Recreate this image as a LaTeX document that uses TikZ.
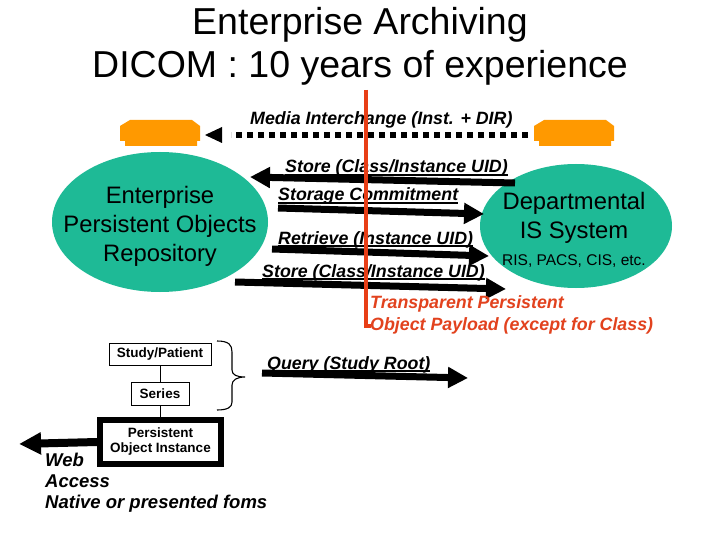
\documentclass[tikz,border=0pt]{standalone}
\usepackage{fontspec}
\setmainfont{Liberation Sans}
\usetikzlibrary{arrows.meta,shapes.geometric}
\definecolor{tealfill}{RGB}{30,186,150}
\definecolor{orng}{RGB}{255,153,0}
\definecolor{redl}{RGB}{232,62,22}
\definecolor{redt}{RGB}{226,66,30}
\newcommand\myul[1]{\setbox0=\hbox{#1}\rlap{\rule[-2.6pt]{\wd0}{1.3pt}}\box0}
\begin{document}
\begin{tikzpicture}[x=1pt,y=-1pt,
  ttl/.style={font=\fontsize{37.5}{42}\selectfont, inner sep=0, anchor=base},
  lbl/.style={font=\fontsize{17.8}{21}\selectfont\bfseries\itshape, inner sep=0, anchor=base west},
  webl/.style={font=\fontsize{18.5}{21}\selectfont\bfseries\itshape, inner sep=0, anchor=base west},
  elltxt/.style={font=\fontsize{23.8}{28}\selectfont, inner sep=0, anchor=base},
  smalltxt/.style={font=\fontsize{15.5}{18}\selectfont, inner sep=0, anchor=base},
  blob/.style={ellipse, fill=tealfill, inner sep=0},
  boxn/.style={draw, line width=1pt, font=\fontsize{13.5}{16}\selectfont\bfseries, inner sep=0, align=center},
  fat/.style={line width=7pt, -{Triangle[length=20pt,width=20pt]}},
  dots/.style={line width=6pt, dash pattern=on 6pt off 5pt},
  redline/.style={redl, line width=4.5pt}
]
\useasboundingbox[fill=white] (0,0) rectangle (720,540);

% title
\node[ttl] (t1) at (360,35) {Enterprise Archiving};
\node[ttl] (t2) at (360,78) {DICOM : 10 years of experience};

% ellipses
\node[blob, minimum width=216pt, minimum height=140pt] (repo) at (160,222) {};
\node[blob, minimum width=192pt, minimum height=124pt] (dept) at (576,226) {};
\node[elltxt] (e1) at (160,204) {Enterprise};
\node[elltxt] (e2) at (160,232.5) {Persistent Objects};
\node[elltxt] (e3) at (160,261) {Repository};
\node[elltxt] (d1) at (574,210) {Departmental};
\node[elltxt] (d2) at (574,239) {IS System};
\node[smalltxt] (d3) at (574,265.5) {RIS, PACS, CIS, etc.};

% orange media
\fill[orng] (130,120) -- (192,120) -- (200,126) -- (200,141) -- (197,141) -- (197,146) -- (125,146) -- (125,141) -- (120,141) -- (120,126) -- cycle;
\fill[orng] (544,120) -- (606,120) -- (614,126) -- (614,141) -- (611,141) -- (611,146) -- (539,146) -- (539,141) -- (534,141) -- (534,126) -- cycle;

% media interchange
\coordinate (mr) at (528,135);
\coordinate (ml) at (231,135);
\coordinate (mtip) at (205,135);
\draw[dots] (mr) -- (ml);
\fill (mtip) -- ++(17,-8) -- ++(0,16) -- cycle;
\node[lbl] (lm) at (250,125) {Media Interchange (Inst. + DIR)};

% arrows between repositories
\coordinate (a1s) at (515,183); \coordinate (a1e) at (250,177);
\coordinate (a2s) at (278,208); \coordinate (a2e) at (484,214);
\coordinate (a3s) at (272,249); \coordinate (a3e) at (489,256);
\coordinate (a4s) at (235,282); \coordinate (a4e) at (506,289);
\draw[fat] (a1s) -- (a1e);
\draw[fat] (a2s) -- (a2e);
\draw[fat] (a3s) -- (a3e);
\draw[fat] (a4s) -- (a4e);
\node[lbl] (l1) at (285,173) {\myul{Store (Class/Instance UID)}};
\node[lbl] (l2) at (278,201) {\myul{Storage Commitment}};
\node[lbl] (l3) at (278,244) {\myul{Retrieve (Instance UID)}};
\node[lbl] (l4) at (262,277) {\myul{Store (Class/Instance UID)}};

% red payload text
\node[lbl, text=redt] (r1) at (370,308) {Transparent Persistent};
\node[lbl, text=redt] (r2) at (370,330) {Object Payload (except for Class)};

% hierarchy
\node[boxn, minimum width=102pt, minimum height=22pt] (sp) at (160,354) {Study/Patient};
\node[boxn, minimum width=58pt, minimum height=23pt] (ser) at (160,394) {Series};
\node[boxn, line width=6pt, minimum width=121pt, minimum height=44pt] (poi) at (160.5,442) {Persistent\\[-1pt]Object Instance};
\draw[line width=0.8pt] (sp.south) -- (sp.south |- ser.north);
\draw[line width=0.8pt] (ser.south) -- (ser.south |- poi.north);

% brace
\draw[line width=1.1pt] (217,341) .. controls (229,341) and (232,345) .. (232,352) -- (232,370) .. controls (232,375) and (237,377) .. (245,377) .. controls (237,377) and (232,380) .. (232,385) -- (232,402) .. controls (232,407) and (228,410) .. (217,410);

% query
\coordinate (qs) at (262,373); \coordinate (qe) at (468,378);
\draw[fat] (qs) -- (qe);
\node[lbl] (lq) at (267,369) {\myul{Query (Study Root)}};

% web access
\coordinate (wtip) at (19,444);
\draw[line width=8pt, -{Triangle[length=22pt,width=21pt]}] (poi.west) -- (wtip);
\node[webl] (w1) at (45,466) {Web};
\node[webl] (w2) at (45,487) {Access};
\node[webl] (w3) at (45,508) {Native or presented foms};

% red divider on top
\coordinate (rtop) at (366,90);
\coordinate (rbot) at (366,328);
\draw[redline] (rtop) -- (rbot);
\fill[redl] (363.75,324) rectangle (371,328);
\end{tikzpicture}
\end{document}
